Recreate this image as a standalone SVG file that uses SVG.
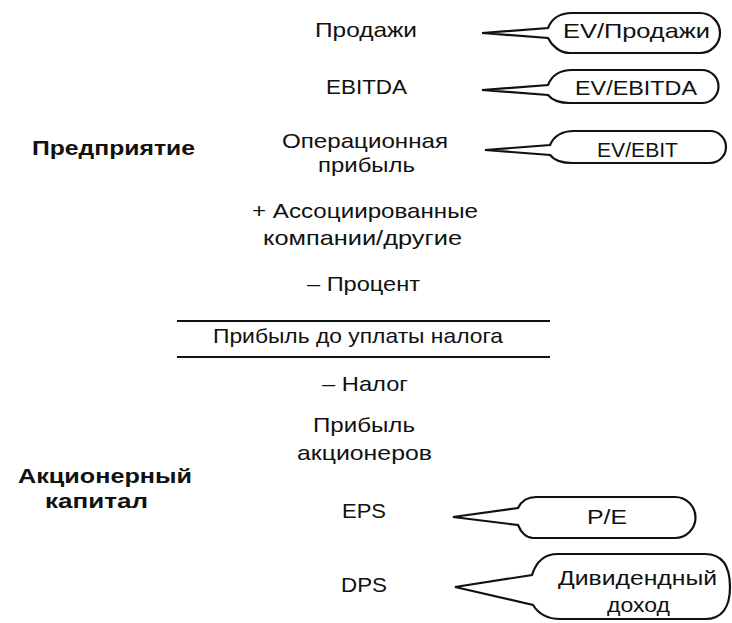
<svg xmlns="http://www.w3.org/2000/svg" width="732" height="623" viewBox="0 0 732 623">
<style>
text{font-family:"Liberation Sans",Arial,sans-serif;font-size:21px;fill:#111}
.b{font-weight:bold}
.bub{fill:#fff;stroke:#111;stroke-width:2.2;stroke-linejoin:miter}
.rule{stroke:#111;stroke-width:2}
</style>
<rect width="732" height="623" fill="#fff"/>
<g id="labels">
<text class="b" x="32" y="155" textLength="163" lengthAdjust="spacingAndGlyphs">Предприятие</text>
<text class="b" x="18" y="483" textLength="174" lengthAdjust="spacingAndGlyphs">Акционерный</text>
<text class="b" x="45" y="508" textLength="103" lengthAdjust="spacingAndGlyphs">капитал</text>
</g>
<g id="items">
<text x="315" y="37" textLength="102" lengthAdjust="spacingAndGlyphs">Продажи</text>
<text x="326" y="94" textLength="81" lengthAdjust="spacingAndGlyphs">EBITDA</text>
<text x="282" y="148" textLength="166" lengthAdjust="spacingAndGlyphs">Операционная</text>
<text x="318" y="172" textLength="97" lengthAdjust="spacingAndGlyphs">прибыль</text>
<text x="252" y="218" textLength="226" lengthAdjust="spacingAndGlyphs">+ Ассоциированные</text>
<text x="263" y="245" textLength="199" lengthAdjust="spacingAndGlyphs">компании/другие</text>
<text x="307" y="291" textLength="113" lengthAdjust="spacingAndGlyphs">– Процент</text>
<text x="213" y="343" textLength="290" lengthAdjust="spacingAndGlyphs">Прибыль до уплаты налога</text>
<text x="322" y="391" textLength="86" lengthAdjust="spacingAndGlyphs">– Налог</text>
<text x="313" y="432" textLength="102" lengthAdjust="spacingAndGlyphs">Прибыль</text>
<text x="297" y="460" textLength="135" lengthAdjust="spacingAndGlyphs">акционеров</text>
<text x="342" y="518" textLength="44" lengthAdjust="spacingAndGlyphs">EPS</text>
<text x="341" y="592" textLength="46" lengthAdjust="spacingAndGlyphs">DPS</text>
</g>
<g id="connectors">
<line class="rule" x1="177" y1="321" x2="550" y2="321"/>
<line class="rule" x1="177" y1="357" x2="550" y2="357"/>
</g>
<g id="callout-ev-sales">
<path class="bub" d="M482,33 L548,28 C552,18 560,13 572,13 L700,13 A20,20 0 0 1 700,53 L570,53 C560,53 552,46 548,38 Z"/>
<text x="563" y="38" textLength="147" lengthAdjust="spacingAndGlyphs">EV/Продажи</text>
</g>
<g id="callout-ev-ebitda">
<path class="bub" d="M482,90 L548,85 C552,75 560,70 572,70 L702,70 A16.5,16.5 0 0 1 702,103 L570,103 C560,103 552,100 548,95 Z"/>
<text x="575" y="95" textLength="122" lengthAdjust="spacingAndGlyphs">EV/EBITDA</text>
</g>
<g id="callout-ev-ebit">
<path class="bub" d="M485,150 L550,145 C554,136 562,131 574,131 L710,131 A16,16 0 0 1 710,163 L572,163 C562,163 554,160 550,155 Z"/>
<text x="597" y="157" textLength="81" lengthAdjust="spacingAndGlyphs">EV/EBIT</text>
</g>
<g id="callout-pe">
<path class="bub" d="M453,517 L518,508 C522,500 528,497 536,497 L675,497 A20.5,20.5 0 0 1 675,538 L533,538 C527,538 521,533 518,525 Z"/>
<text x="587" y="524" textLength="40" lengthAdjust="spacingAndGlyphs">P/E</text>
</g>
<g id="callout-dividend">
<path class="bub" d="M455,587 L532,575 C536,562 544,554 558,554 L705,554 C722,554 730,566 730,587 C730,607 722,619 705,619 L560,619 C546,619 538,613 533,605 Z"/>
<text x="558" y="585" textLength="159" lengthAdjust="spacingAndGlyphs">Дивидендный</text>
<text x="607" y="612" textLength="63" lengthAdjust="spacingAndGlyphs">доход</text>
</g>
</svg>
